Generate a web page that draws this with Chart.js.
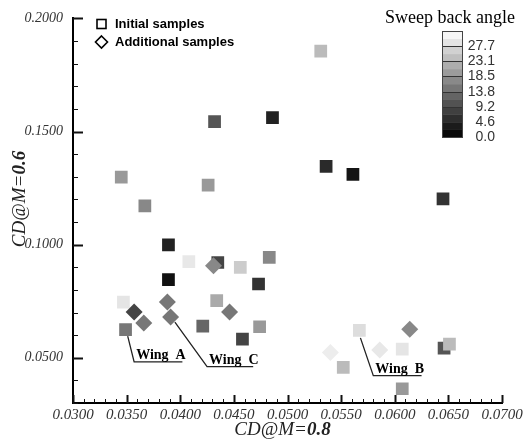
<!DOCTYPE html>
<html lang="en">
<head>
<meta charset="UTF-8">
<title>CD@M=0.6 vs CD@M=0.8</title>
<script src="https://cdn.jsdelivr.net/npm/chart.js"></script>
<style>
  html, body { margin: 0; padding: 0; background: #fff; }
  #chart { display: block; }
</style>
</head>
<body>
<canvas id="chart" width="532" height="441"></canvas>
<script>
// Initial samples (squares)
const initialCd08 = [0.0432, 0.0486, 0.0345, 0.0426, 0.0367, 0.0536, 0.0561, 0.0645, 0.0531, 0.0389,
                     0.0408, 0.0435, 0.0456, 0.0483, 0.0473, 0.0389, 0.0347, 0.0349, 0.0434, 0.0421,
                     0.0474, 0.0458, 0.0567, 0.0607, 0.0646, 0.0651, 0.0552, 0.0607];
const initialCd06 = [0.1544, 0.1561, 0.1298, 0.1263, 0.1171, 0.1346, 0.1311, 0.1202, 0.1855, 0.0999,
                     0.0925, 0.0921, 0.0899, 0.0944, 0.0826, 0.0845, 0.0746, 0.0624, 0.0753, 0.0640,
                     0.0637, 0.0582, 0.0621, 0.0538, 0.0543, 0.0560, 0.0457, 0.0363];
const initialSweep = [10.8, 4.3, 19.4, 19.4, 17.2, 5.3, 2.7, 6.5, 23.7, 4.3,
                      29.4, 8.6, 25.8, 17.2, 6.5, 2.2, 29.0, 15.1, 21.5, 12.9,
                      19.4, 8.6, 28.0, 29.0, 10.8, 23.7, 23.7, 19.4];

// Additional samples (diamonds)
const additionalCd08 = [0.0431, 0.0357, 0.0366, 0.0388, 0.0391, 0.0446, 0.0614, 0.0586, 0.0540];
const additionalCd06 = [0.0907, 0.0702, 0.0654, 0.0746, 0.0680, 0.0702, 0.0626, 0.0534, 0.0523];
const additionalSweep = [17.2, 8.6, 15.1, 15.1, 15.1, 15.1, 17.2, 29.4, 30.0];

// Axes
const xTickValues = [0.030, 0.035, 0.040, 0.045, 0.050, 0.055, 0.060, 0.065, 0.070];
const yTickValues = [0.05, 0.10, 0.15, 0.20];
const xMinorStep = 0.001;
const yMinorStep = 0.01;

// Colour bar
const sweepTicks = [0.0, 4.6, 9.2, 13.8, 18.5, 23.1, 27.7];
const sweepMax = 32.3;
const sweepBands = 14;

// Wing call-outs (data coordinates: start, elbow, end of underline)
const wingLabels = ['Wing  A', 'Wing  C', 'Wing  B'];
const wingPaths = [
  [[0.0351, 0.0596], [0.0357, 0.0482], [0.0402, 0.0482]],
  [[0.0395, 0.0658], [0.0425, 0.0461], [0.0468, 0.0461]],
  [[0.0568, 0.0588], [0.0580, 0.0421], [0.0625, 0.0421]]
];

const SERIF = '"Liberation Serif", "DejaVu Serif", serif';
const SANS = '"Liberation Sans", Arial, sans-serif';

function sweepGray(a) {
  const g = Math.round(255 * Math.max(0, Math.min(a / sweepMax, 1)));
  return 'rgb(' + g + ',' + g + ',' + g + ')';
}

function toPoints(xs, ys) {
  return xs.map((v, i) => ({ x: v, y: ys[i] }));
}

const decor = {
  id: 'decor',
  beforeDatasetsDraw(chart) {
    const { ctx, scales: { x, y } } = chart;
    ctx.save();
    ctx.strokeStyle = '#111';
    // inward ticks on the x axis
    const nx = Math.round((x.max - x.min) / xMinorStep);
    for (let i = 0; i <= nx; i++) {
      const v = x.min + i * xMinorStep;
      const major = xTickValues.some(t => Math.abs(t - v) < 1e-9);
      const px = Math.round(x.getPixelForValue(v)) + 0.5;
      ctx.lineWidth = major ? 2 : 1;
      ctx.beginPath();
      ctx.moveTo(px, y.bottom);
      ctx.lineTo(px, y.bottom - (major ? 8 : 4));
      ctx.stroke();
    }
    // inward ticks on the y axis
    const ny = Math.round((y.max - y.min) / yMinorStep);
    for (let i = 0; i <= ny; i++) {
      const v = y.min + i * yMinorStep;
      const major = yTickValues.some(t => Math.abs(t - v) < 1e-9);
      const py = Math.round(y.getPixelForValue(v)) + 0.5;
      ctx.lineWidth = major ? 2 : 1;
      ctx.beginPath();
      ctx.moveTo(x.left, py);
      ctx.lineTo(x.left + (major ? 10 : 5), py);
      ctx.stroke();
    }
    ctx.restore();
  },
  afterDatasetsDraw(chart) {
    const { ctx, scales: { x, y } } = chart;
    ctx.save();
    ctx.strokeStyle = '#222';
    ctx.lineWidth = 1.3;
    ctx.fillStyle = '#000';
    ctx.font = 'bold 14px ' + SERIF;
    ctx.textAlign = 'left';
    ctx.textBaseline = 'alphabetic';
    wingPaths.forEach((path, k) => {
      const pts = path.map(p => [x.getPixelForValue(p[0]), y.getPixelForValue(p[1])]);
      ctx.beginPath();
      ctx.moveTo(pts[0][0], pts[0][1]);
      ctx.lineTo(pts[1][0], pts[1][1]);
      ctx.lineTo(pts[2][0], pts[2][1]);
      ctx.stroke();
      ctx.fillText(wingLabels[k], pts[1][0] + 2, pts[1][1] - 3);
    });
    ctx.restore();
  },
  afterDraw(chart) {
    const { ctx, scales: { x, y } } = chart;
    ctx.save();

    // legend
    ctx.strokeStyle = '#000';
    ctx.lineWidth = 1.6;
    ctx.strokeRect(97, 19.5, 9, 9);
    ctx.beginPath();
    ctx.moveTo(101.5, 36);
    ctx.lineTo(107.5, 42);
    ctx.lineTo(101.5, 48);
    ctx.lineTo(95.5, 42);
    ctx.closePath();
    ctx.stroke();
    ctx.fillStyle = '#000';
    ctx.font = 'bold 13px ' + SANS;
    ctx.textBaseline = 'middle';
    ctx.textAlign = 'left';
    ctx.fillText('Initial samples', 115, 24);
    ctx.fillText('Additional samples', 115, 42);

    // colour bar
    const cbL = 442, cbR = 462, cbT = 31, cbB = 137;
    const vy = v => cbB - (v / sweepMax) * (cbB - cbT);
    const step = sweepMax / sweepBands;
    for (let i = 0; i < sweepBands; i++) {
      ctx.fillStyle = sweepGray((i + 0.5) * step);
      const yTop = vy((i + 1) * step), yBot = vy(i * step);
      ctx.fillRect(cbL, yTop, cbR - cbL, yBot - yTop + 0.5);
    }
    ctx.strokeStyle = '#333';
    ctx.lineWidth = 1;
    sweepTicks.forEach(t => {
      if (t <= 0) return;
      const py = Math.round(vy(t)) + 0.5;
      ctx.beginPath();
      ctx.moveTo(cbL, py);
      ctx.lineTo(cbR, py);
      ctx.stroke();
    });
    ctx.strokeStyle = '#444';
    ctx.strokeRect(cbL + 0.5, cbT + 0.5, cbR - cbL, cbB - cbT);
    ctx.fillStyle = '#333';
    ctx.font = '14px ' + SANS;
    ctx.textAlign = 'right';
    ctx.textBaseline = 'middle';
    sweepTicks.forEach(t => ctx.fillText(t.toFixed(1), 495, vy(t)));
    ctx.fillStyle = '#000';
    ctx.font = '18px ' + SERIF;
    ctx.textAlign = 'left';
    ctx.fillText('Sweep back angle', 385, 18);

    // axis titles: "CD@M=" italic, number bold italic
    const drawTitle = (cx, cy, num) => {
      const f1 = 'italic 19px ' + SERIF, f2 = 'italic bold 19px ' + SERIF;
      ctx.font = f1;
      const w1 = ctx.measureText('CD@M=').width;
      ctx.font = f2;
      const w2 = ctx.measureText(num).width;
      const x0 = cx - (w1 + w2) / 2;
      ctx.textAlign = 'left';
      ctx.textBaseline = 'middle';
      ctx.fillStyle = '#222';
      ctx.font = f1;
      ctx.fillText('CD@M=', x0, cy);
      ctx.font = f2;
      ctx.fillText(num, x0 + w1, cy);
    };
    drawTitle((x.left + x.right) / 2 - 5, 430, '0.8');
    ctx.translate(20, 199);
    ctx.rotate(-Math.PI / 2);
    drawTitle(0, 0, '0.6');
    ctx.restore();
  }
};

new Chart(document.getElementById('chart'), {
  type: 'scatter',
  data: {
    datasets: [
      {
        label: 'Additional samples',
        data: toPoints(additionalCd08, additionalCd06),
        pointStyle: 'rectRot',
        pointRadius: 8.5,
        pointBorderWidth: 0,
        pointBackgroundColor: additionalSweep.map(sweepGray),
        order: 0
      },
      {
        label: 'Initial samples',
        data: toPoints(initialCd08, initialCd06),
        pointStyle: 'rect',
        pointRadius: 9,
        pointBorderWidth: 0,
        pointBackgroundColor: initialSweep.map(sweepGray),
        order: 1
      }
    ]
  },
  options: {
    responsive: false,
    animation: false,
    layout: { padding: { top: 15, right: 30, left: 0, bottom: 0 } },
    plugins: { legend: { display: false }, tooltip: { enabled: false } },
    scales: {
      x: {
        type: 'linear',
        min: 0.03,
        max: 0.07,
        afterBuildTicks: s => { s.ticks = xTickValues.map(v => ({ value: v })); },
        afterFit: s => { s.height = 38; },
        grid: { display: false, drawTicks: false },
        border: { display: true, color: '#000', width: 2 },
        ticks: {
          padding: 3,
          color: '#333',
          font: { family: SERIF, size: 15, style: 'italic' },
          callback: v => Number(v).toFixed(4)
        }
      },
      y: {
        type: 'linear',
        min: 0.03,
        max: 0.2,
        afterBuildTicks: s => { s.ticks = yTickValues.map(v => ({ value: v })); },
        afterFit: s => { s.width = 73; },
        grid: { display: false, drawTicks: false },
        border: { display: true, color: '#000', width: 2 },
        ticks: {
          padding: 10,
          color: '#333',
          font: { family: SERIF, size: 14, style: 'italic' },
          callback: v => Number(v).toFixed(4)
        }
      }
    }
  },
  plugins: [decor]
});
</script>
</body>
</html>
